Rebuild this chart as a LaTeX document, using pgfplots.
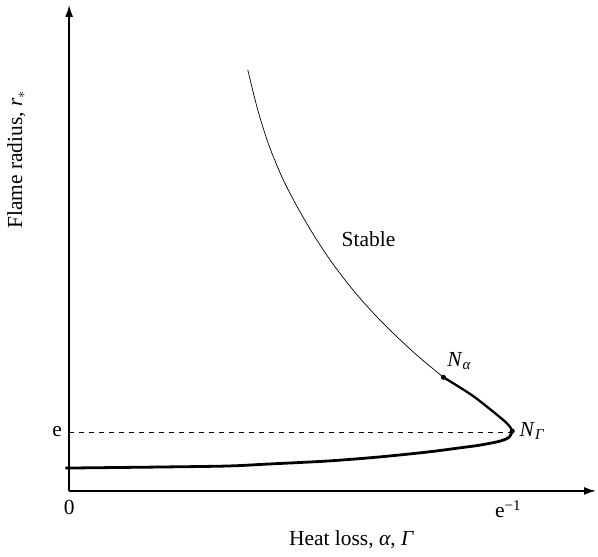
\documentclass[border=0pt]{standalone}
\usepackage{pgfplots}
\pgfplotsset{compat=1.18}
\usepackage{fontspec}
\setmainfont{Liberation Serif}
\usetikzlibrary{arrows.meta}
\begin{document}
\fontsize{21.5}{25}\selectfont
\begin{tikzpicture}
\begin{axis}[
  scale only axis, width=528pt, height=487pt,
  xmin=0, xmax=528, ymin=0, ymax=487,
  axis lines=left,
  axis line style={line width=1.5pt, -{Latex[length=12pt,width=8pt]}},
  xtick={0,440}, xticklabels={0, e\textsuperscript{−1}},
  ytick={60}, yticklabels={e},
  major tick length=0pt,
  /pgf/number format/assume math mode=true,
  tick label style={font=\fontsize{21.5}{25}\selectfont},
  xticklabel style={yshift=-2pt},
  clip=false
]
% stable upper branch (thin)
\addplot[black, line width=0.7pt, smooth] coordinates {
  (179,422) (189,382) (200,347) (214,313) (229,284) (246,255)
  (264,228) (284,202) (306,177) (329,154) (352,133) (375,114)
};
% thick part through the turning point
\addplot[black, line width=2.3pt, smooth] coordinates {
  (375,114) (405,95) (434,72) (442,64) (444,60)
};
\addplot[black, line width=2.8pt, smooth] coordinates {
  (444,60) (441,54) (432,50) (412,46) (390,43) (359,39) (310,34)
  (259,30) (200,27) (159,25) (92,24) (2,23) (0,23)
};
% dashed level e
\addplot[black, line width=0.5pt, dash pattern=on 5pt off 5pt] coordinates {(0,59) (444,59)};
% marked points
\addplot[only marks, mark=*, mark size=2.3pt, black] coordinates {(375,114) (444,60)};
\node at (axis cs:300,252) {Stable};
\node at (axis cs:391,130) {\textit{N}\textsubscript{\textit{α}}};
\node at (axis cs:464,60) {\textit{N}\textsubscript{\textit{Γ}}};
\node at (axis cs:283,-49) {Heat loss, \textit{α}, \textit{Γ}};
\node[rotate=90] at (axis cs:-53,332) {Flame radius, \textit{r}\textsubscript{$*$}};
\path (axis cs:-68,-63) (axis cs:530,492);
\end{axis}
\end{tikzpicture}
\end{document}
